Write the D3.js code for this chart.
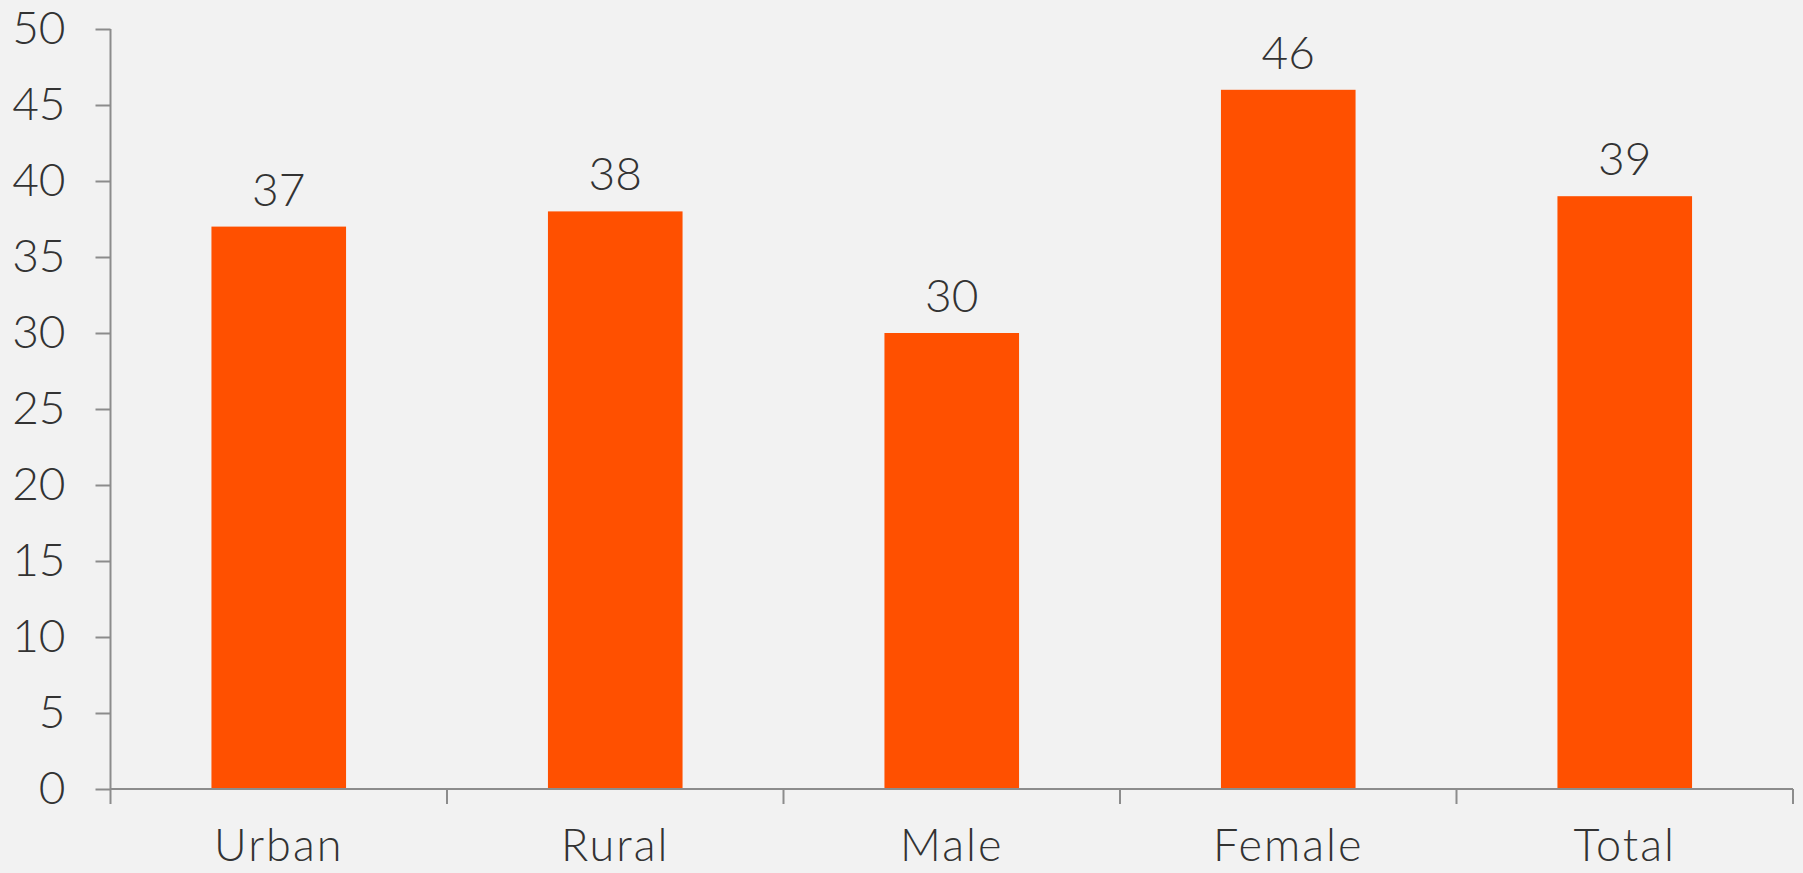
<!DOCTYPE html>
<html>
<head>
<meta charset="utf-8">
<script src="https://cdn.jsdelivr.net/npm/d3@7"></script>
<style>
  html, body { margin: 0; padding: 0; background: #f2f2f2; }
  svg { display: block; }
  text { font-family: "Century Gothic", Lato, "Open Sans", sans-serif; font-weight: 300; fill: #333; }
</style>
</head>
<body>
<div id="chart"></div>
<script>
  'use strict'

  var categories = ['Urban', 'Rural', 'Male', 'Female', 'Total']
  var values = [37, 38, 30, 46, 39]
  var yTicks = [0, 5, 10, 15, 20, 25, 30, 35, 40, 45, 50]

  var width = 1803
  var height = 873
  var margin = { top: 29, right: 10, bottom: 84, left: 110.5 }

  var svg = d3.select('#chart').append('svg')
        .attr('width', width)
        .attr('height', height)

  svg.append('rect')
        .attr('width', width)
        .attr('height', height)
        .attr('fill', '#f2f2f2')

  var x = d3.scaleBand()
        .domain(categories)
        .range([margin.left, width - margin.right])
        .paddingInner(0.6)
        .paddingOuter(0.3)

  // band ticks sit between categories, so use a plain linear scale for them
  var xEdge = d3.scaleLinear()
        .domain([0, categories.length])
        .range([margin.left, width - margin.right])

  var y = d3.scaleLinear()
        .domain([0, 50])
        .range([height - margin.bottom, margin.top])

  // bars
  svg.selectAll('rect.bar')
        .data(values)
        .enter().append('rect')
        .attr('class', 'bar')
        .attr('x', function (d, i) { return x(categories[i]) })
        .attr('y', function (d) { return y(d) })
        .attr('width', x.bandwidth())
        .attr('height', function (d) { return y(0) - y(d) })
        .attr('fill', '#ff5000')

  // value labels
  svg.selectAll('text.value')
        .data(values)
        .enter().append('text')
        .attr('class', 'value')
        .attr('x', function (d, i) { return x(categories[i]) + x.bandwidth() / 2 })
        .attr('y', function (d) { return y(d) - 21 })
        .attr('text-anchor', 'middle')
        .style('font-size', '46px')
        .text(function (d) { return d })

  // y axis
  var yAxis = d3.axisLeft(y)
        .tickValues(yTicks)
        .tickSize(15)
        .tickPadding(30)
  var gy = svg.append('g')
        .attr('transform', 'translate(' + margin.left + ',0)')
        .call(yAxis)
  gy.select('.domain').remove()
  gy.append('line')
        .attr('x1', 0).attr('x2', 0)
        .attr('y1', y(50)).attr('y2', y(0) + 15)
        .attr('stroke', '#8c8c8c')
        .attr('stroke-width', 2)
  gy.selectAll('.tick line').attr('stroke', '#8c8c8c').attr('stroke-width', 2)
  gy.selectAll('.tick text')
        .attr('fill', '#333')
        .style('font-size', '46px')
        .style('font-weight', 300)
        .style('font-family', '"Century Gothic", Lato, "Open Sans", sans-serif')

  // x axis
  var gx = svg.append('g')
  gx.append('line')
        .attr('x1', xEdge(0)).attr('x2', xEdge(categories.length))
        .attr('y1', y(0)).attr('y2', y(0))
        .attr('stroke', '#8c8c8c')
        .attr('stroke-width', 2)
  gx.selectAll('line.xtick')
        .data(d3.range(1, categories.length + 1))
        .enter().append('line')
        .attr('class', 'xtick')
        .attr('x1', function (d) { return xEdge(d) })
        .attr('x2', function (d) { return xEdge(d) })
        .attr('y1', y(0))
        .attr('y2', y(0) + 15)
        .attr('stroke', '#8c8c8c')
        .attr('stroke-width', 2)
  gx.selectAll('text.cat')
        .data(categories)
        .enter().append('text')
        .attr('class', 'cat')
        .attr('x', function (d) { return x(d) + x.bandwidth() / 2 })
        .attr('y', y(0) + 72)
        .attr('text-anchor', 'middle')
        .style('font-size', '45px')
        .style('letter-spacing', '2px')
        .text(function (d) { return d })
</script>
</body>
</html>
